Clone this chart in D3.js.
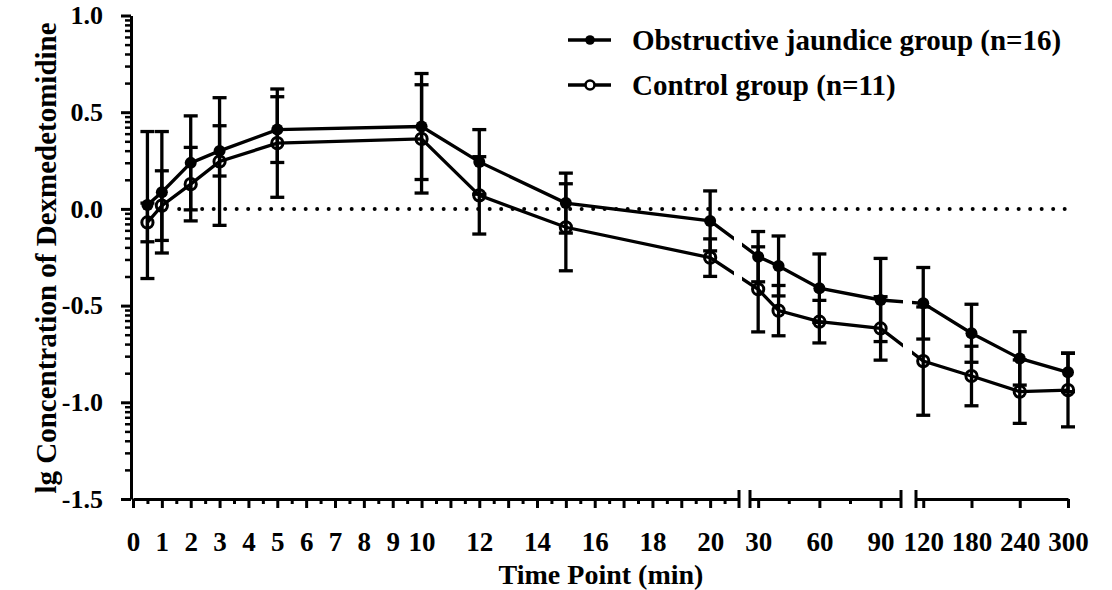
<!DOCTYPE html>
<html>
<head>
<meta charset="utf-8">
<script src="https://cdn.jsdelivr.net/npm/d3@7"></script>
<style>
  body { margin: 0; background: #fff; }
  svg text { font-family: "Liberation Serif", "Times New Roman", serif; font-weight: bold; fill: #000; }
</style>
</head>
<body>
<div id="chart"></div>
<script>
// time points (min) and lg concentration, mean and SD per group
const timePoints = [0.5, 1, 2, 3, 5, 10, 12, 15, 20, 30, 40, 60, 90, 120, 180, 240, 300];
const obstructiveMean = [0.02, 0.086, 0.238, 0.30, 0.41, 0.426, 0.243, 0.03, -0.062, -0.247, -0.295, -0.41, -0.471, -0.488, -0.643, -0.773, -0.845];
const obstructiveSD = [0.38, 0.314, 0.243, 0.13, 0.17, 0.274, 0.167, 0.155, 0.155, 0.13, 0.155, 0.177, 0.215, 0.185, 0.15, 0.138, 0.10];
const controlMean = [-0.07, 0.017, 0.128, 0.245, 0.34, 0.362, 0.07, -0.095, -0.252, -0.416, -0.526, -0.583, -0.618, -0.787, -0.864, -0.945, -0.937];
const controlSD = [0.10, 0.18, 0.19, 0.33, 0.28, 0.28, 0.20, 0.225, 0.097, 0.22, 0.13, 0.11, 0.164, 0.28, 0.154, 0.164, 0.19];

const seriesNames = ["Obstructive jaundice group (n=16)", "Control group (n=11)"];

// tick labels
const yTickValues = [1.0, 0.5, 0.0, -0.5, -1.0, -1.5];
const seg1Labels = [0, 1, 2, 3, 4, 5, 6, 7, 8, 9, 10, 12, 14, 16, 18, 20];
const seg2Labels = [30, 60, 90];
const seg3Labels = [120, 180, 240, 300];

const width = 1112;
const height = 590;

const svg = d3.select("#chart").append("svg")
    .attr("width", width)
    .attr("height", height)
    .attr("viewBox", [0, 0, width, height]);

const y = d3.scaleLinear([-1.5, 1], [499, 15.5]);
const y0 = y(-1.5);

// broken x axis: three linear pieces
const segs = [
    {scale: d3.scaleLinear([0, 21], [133, 739]), major: d3.range(0, 21), minor: d3.range(0.5, 21, 1), labels: seg1Labels, clip: [0, 734]},
    {scale: d3.scaleLinear([26, 100], [750, 901]), major: seg2Labels, minor: [45, 75], labels: seg2Labels, clip: [742, 903]},
    {scale: d3.scaleLinear([111, 300], [916, 1068]), major: seg3Labels, minor: [], labels: seg3Labels, clip: [912, width]}
];

function x(t) {
    const s = segs.find(s => t >= s.scale.domain()[0] && t <= s.scale.domain()[1]);
    return s.scale(t);
}

// x axis pieces
segs.forEach((s, i) => {
    const g = svg.append("g").attr("transform", `translate(0,${y0})`);
    g.call(d3.axisBottom(s.scale)
        .tickValues(s.major)
        .tickSize(9)
        .tickSizeOuter(0)
        .tickPadding(24)
        .tickFormat(d => s.labels.includes(d) ? d : ""));
    g.select(".domain").attr("stroke-width", 3);
    g.selectAll(".tick line").attr("stroke-width", 3);
    g.selectAll(".tick text").style("font-size", "27px");

    const gm = svg.append("g").attr("transform", `translate(0,${y0})`);
    gm.call(d3.axisBottom(s.scale).tickValues(s.minor).tickSize(5).tickFormat(""));
    gm.select(".domain").remove();
    gm.selectAll(".tick line").attr("stroke-width", 3);

    // tall break marks
    const r = s.scale.range();
    const ends = i === 0 ? [r[1]] : [r[0], r[1]];
    if (i === 2) ends.pop();
    ends.forEach(px => {
        svg.append("line")
            .attr("x1", px).attr("x2", px)
            .attr("y1", y0 - 9).attr("y2", y0 + 9)
            .attr("stroke", "#000").attr("stroke-width", 3);
    });
});

// y axis with log style minor ticks
const yMinor = [];
yTickValues.slice(1).forEach(b => {
    for (let k = 2; k <= 9; k++) yMinor.push(b + 0.5 * Math.log10(k));
});

const axisX = 131;
const gy = svg.append("g").attr("transform", `translate(${axisX},0)`);
gy.call(d3.axisLeft(y)
    .tickValues(yTickValues)
    .tickSize(10)
    .tickSizeOuter(0)
    .tickPadding(18)
    .tickFormat(d => d.toFixed(1)));
gy.select(".domain").attr("stroke-width", 3);
gy.selectAll(".tick line").attr("stroke-width", 3);
gy.selectAll(".tick text").style("font-size", "26px");

const gym = svg.append("g").attr("transform", `translate(${axisX},0)`);
gym.call(d3.axisLeft(y).tickValues(yMinor).tickSize(6).tickFormat(""));
gym.select(".domain").remove();
gym.selectAll(".tick line").attr("stroke-width", 2.5);

// axis titles
svg.append("text")
    .attr("transform", `translate(56,258) rotate(-90)`)
    .attr("text-anchor", "middle")
    .style("font-size", "29px")
    .text("lg Concentration of Dexmedetomidine");

svg.append("text")
    .attr("x", 601).attr("y", 584)
    .attr("text-anchor", "middle")
    .style("font-size", "28px")
    .text("Time Point (min)");

// dotted zero line
svg.append("line")
    .attr("x1", x(1.6)).attr("x2", x(300))
    .attr("y1", y(0)).attr("y2", y(0))
    .attr("stroke", "#000")
    .attr("stroke-width", 4)
    .attr("stroke-linecap", "round")
    .attr("stroke-dasharray", "0,11.5");

// clip for the connecting lines at the axis breaks
const clip = svg.append("clipPath").attr("id", "breaks");
segs.forEach(s => {
    clip.append("rect")
        .attr("x", s.clip[0]).attr("y", 0)
        .attr("width", s.clip[1] - s.clip[0]).attr("height", height);
});

const groups = [
    {mean: obstructiveMean, sd: obstructiveSD, filled: true},
    {mean: controlMean, sd: controlSD, filled: false}
];

const line = d3.line()
    .x(d => x(d.t))
    .y(d => y(d.v));

groups.forEach(gp => {
    const pts = timePoints.map((t, i) => ({t: t, v: gp.mean[i], sd: gp.sd[i]}));
    gp.pts = pts;

    svg.append("path")
        .datum(pts)
        .attr("d", line)
        .attr("fill", "none")
        .attr("stroke", "#000")
        .attr("stroke-width", 3.3)
        .attr("clip-path", "url(#breaks)");
});

// error bars
groups.forEach(gp => {
    const eb = svg.append("g").attr("stroke", "#000").attr("stroke-width", 3.3);
    eb.selectAll("line.v").data(gp.pts).join("line")
        .attr("x1", d => x(d.t)).attr("x2", d => x(d.t))
        .attr("y1", d => y(d.v - d.sd)).attr("y2", d => y(d.v + d.sd));
    [1, -1].forEach(sign => {
        eb.selectAll(null).data(gp.pts).join("line")
            .attr("x1", d => x(d.t) - 7).attr("x2", d => x(d.t) + 7)
            .attr("y1", d => y(d.v + sign * d.sd)).attr("y2", d => y(d.v + sign * d.sd));
    });
});

// markers
groups.forEach(gp => {
    svg.append("g").selectAll("circle").data(gp.pts).join("circle")
        .attr("cx", d => x(d.t))
        .attr("cy", d => y(d.v))
        .attr("r", gp.filled ? 6 : 5.6)
        .attr("fill", gp.filled ? "#000" : "none")
        .attr("stroke", "#000")
        .attr("stroke-width", gp.filled ? 0 : 3);
});

// legend
const legend = svg.append("g");
groups.forEach((gp, i) => {
    const ly = 40 + i * 45;
    legend.append("line")
        .attr("x1", 568).attr("x2", 611)
        .attr("y1", ly).attr("y2", ly)
        .attr("stroke", "#000").attr("stroke-width", 3.3);
    legend.append("circle")
        .attr("cx", 590).attr("cy", ly)
        .attr("r", gp.filled ? 4.8 : 4.5)
        .attr("fill", gp.filled ? "#000" : "#fff")
        .attr("stroke", "#000")
        .attr("stroke-width", gp.filled ? 0 : 2.6);
    legend.append("text")
        .attr("x", 632).attr("y", ly)
        .attr("dy", "0.35em")
        .style("font-size", "29px")
        .text(seriesNames[i]);
});
</script>
</body>
</html>
